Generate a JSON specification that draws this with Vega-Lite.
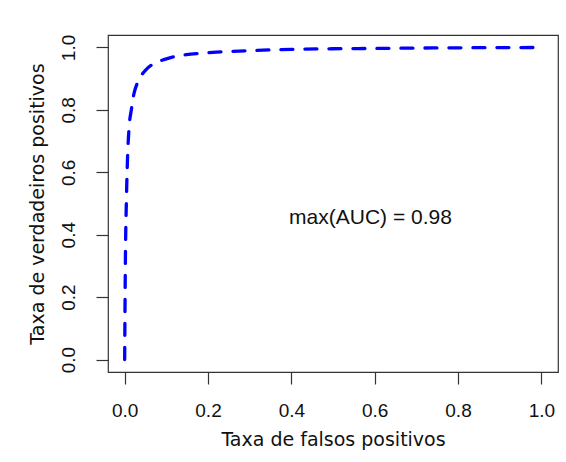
{
  "$schema": "https://vega.github.io/schema/vega-lite/v6.json",
  "width": 450,
  "height": 337,
  "autosize": {"type": "none"},
  "padding": {"left": 108, "top": 35, "right": 8, "bottom": 90},
  "background": "white",
  "config": {
    "view": {"stroke": "#333", "strokeWidth": 1.2},
    "axis": {
      "domain": false,
      "grid": false,
      "ticks": true,
      "tickSize": 12,
      "tickColor": "#333",
      "tickWidth": 1.2,
      "labelFont": "Liberation Sans",
      "labelFontSize": 19,
      "labelColor": "#111",
      "titleFont": "DejaVu Sans",
      "titleFontSize": 19,
      "titleFontWeight": "normal",
      "titleColor": "#111"
    }
  },
  "layer": [
    {
      "data": {"values": [
        {"fpr": 0.0, "tpr": 0.0},
        {"fpr": 0.001, "tpr": 0.2},
        {"fpr": 0.002, "tpr": 0.35},
        {"fpr": 0.004, "tpr": 0.5},
        {"fpr": 0.007, "tpr": 0.65},
        {"fpr": 0.011, "tpr": 0.75},
        {"fpr": 0.016, "tpr": 0.8},
        {"fpr": 0.022, "tpr": 0.85},
        {"fpr": 0.03, "tpr": 0.885},
        {"fpr": 0.04, "tpr": 0.91},
        {"fpr": 0.052, "tpr": 0.93},
        {"fpr": 0.07, "tpr": 0.948},
        {"fpr": 0.096, "tpr": 0.962},
        {"fpr": 0.12, "tpr": 0.971},
        {"fpr": 0.148, "tpr": 0.977},
        {"fpr": 0.18, "tpr": 0.981},
        {"fpr": 0.22, "tpr": 0.985},
        {"fpr": 0.3, "tpr": 0.99},
        {"fpr": 0.4, "tpr": 0.994},
        {"fpr": 0.5, "tpr": 0.996},
        {"fpr": 0.6, "tpr": 0.997},
        {"fpr": 0.8, "tpr": 0.999},
        {"fpr": 1.0, "tpr": 1.0}
      ]},
      "mark": {"type": "line", "color": "#0000ff", "strokeWidth": 3.3, "strokeDash": [12, 12], "strokeCap": "round", "interpolate": "monotone"},
      "encoding": {
        "x": {
          "field": "fpr", "type": "quantitative",
          "scale": {"domain": [-0.04, 1.04], "nice": false, "zero": false},
          "axis": {"title": "Taxa de falsos positivos", "values": [0, 0.2, 0.4, 0.6, 0.8, 1.0], "format": ".1f", "labelPadding": 17, "titlePadding": 10}
        },
        "y": {
          "field": "tpr", "type": "quantitative",
          "scale": {"domain": [-0.04, 1.04], "nice": false, "zero": false},
          "axis": {"title": "Taxa de verdadeiros positivos", "values": [0, 0.2, 0.4, 0.6, 0.8, 1.0], "format": ".1f", "labelAngle": 270, "labelAlign": "center", "labelBaseline": "bottom", "labelPadding": 18, "titlePadding": 12}
        }
      }
    },
    {
      "data": {"values": [{"x": 0.59, "y": 0.455, "label": "max(AUC) = 0.98"}]},
      "mark": {"type": "text", "font": "Liberation Sans", "fontSize": 21, "color": "#111", "align": "center", "baseline": "middle"},
      "encoding": {
        "x": {"field": "x", "type": "quantitative"},
        "y": {"field": "y", "type": "quantitative"},
        "text": {"field": "label"}
      }
    }
  ]
}
